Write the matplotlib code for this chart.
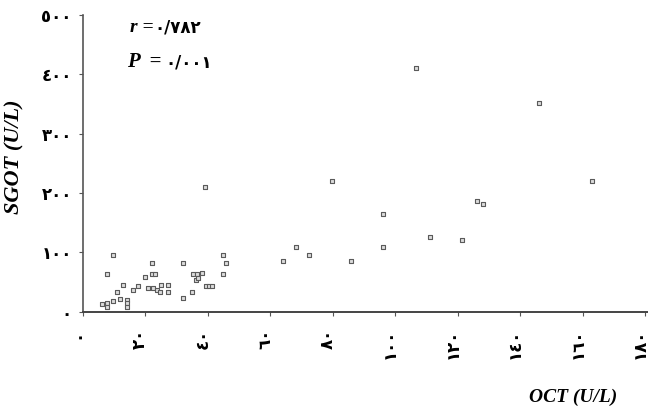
import matplotlib
matplotlib.use('Agg')
import matplotlib.pyplot as plt
from matplotlib.transforms import ScaledTranslation

# data
oct_vals = [9.5, 7.8, 12.9, 10.8, 6.0, 7.6, 7.6, 9.5, 11.8, 14.0, 14.0, 14.0,
            16.1, 17.7, 20.0, 22.0, 22.0, 23.0, 20.9, 22.5, 23.6, 24.6, 25.0,
            27.1, 27.1, 31.9, 31.9, 34.8, 35.3, 36.4, 38.2, 36.2, 36.9,
            39.4, 40.4, 41.4, 44.9, 45.8, 44.9, 39.0, 64.1, 68.2, 72.3,
            85.8, 79.7, 96.1, 96.1, 106.6, 111.0, 121.2, 126.0, 128.1,
            146.0, 162.8]
sgot_vals = [96, 63, 45, 33, 13, 15, 9, 18, 21, 20, 15, 9,
             37, 44, 59, 82, 64, 64, 41, 40, 37, 34, 45,
             45, 34, 83, 24, 34, 64, 64, 65, 54, 57,
             44, 44, 44, 96, 82, 64, 210, 86, 110, 96,
             85, 220, 165, 110, 411, 126, 121, 187, 182,
             352, 221]

x_ticks = [0, 20, 40, 60, 80, 100, 120, 140, 160, 180]
y_ticks = [0, 100, 200, 300, 400, 500]
fa_digits = str.maketrans('0123456789', '٠١٢٣٤٥٦٧٨٩')
x_labels = [str(v).translate(fa_digits) for v in x_ticks]
y_labels = [str(v).translate(fa_digits) for v in y_ticks]
r_text = '٠/٧٨٢'
p_text = '٠/٠٠١'

serif = ['Liberation Serif', 'DejaVu Sans']
digits = ['DejaVu Sans']

fig = plt.figure(figsize=(6.48, 4.12), dpi=100)
ax = fig.add_axes([0.128, 0.243, 0.872, 0.721])

ax.scatter(oct_vals, sgot_vals, marker='s', s=12, facecolor='#dcdcdc',
           edgecolor='#5a5a5a', linewidth=0.8, zorder=3)

ax.set_xlim(0, 180.8)
ax.set_ylim(0, 500)
ax.spines['top'].set_visible(False)
ax.spines['right'].set_visible(False)
ax.spines['left'].set_color('#555555')
ax.spines['bottom'].set_color('#444444')
ax.spines['left'].set_linewidth(1.2)
ax.spines['bottom'].set_linewidth(1.4)

ax.set_yticks(y_ticks)
ax.set_yticklabels(y_labels, family=digits, fontweight='bold', fontsize=12)
ax.set_xticks(x_ticks)
ax.set_xticklabels(x_labels, family=digits, fontweight='bold', fontsize=12,
                   rotation=90)
ax.tick_params(axis='y', length=3, pad=5, color='#555555')
ax.tick_params(axis='x', length=3, pad=9, color='#555555')
# the scan has its x labels sitting a little left of the ticks
shift = ScaledTranslation(-4 / 72, 0, fig.dpi_scale_trans)
for lab in ax.get_xticklabels():
    lab.set_transform(lab.get_transform() + shift)

fig.text(0.023, 0.619, 'SGOT (U/L)', rotation=90, ha='center', va='center',
         family=serif, fontweight='bold', fontstyle='italic', fontsize=16)
fig.text(0.885, 0.035, 'OCT (U/L)', ha='center', va='center',
         family=serif, fontweight='bold', fontstyle='italic', fontsize=14)

# r and P: italic latin part, upright digits (italic font lacks them)
ax.text(0.083, 0.958, 'r =', transform=ax.transAxes, ha='left',
        va='center', family=serif, fontweight='bold', fontstyle='italic',
        fontsize=14)
ax.text(0.127, 0.958, r_text, transform=ax.transAxes, ha='left',
        va='center', family=digits, fontweight='bold', fontsize=12)
ax.text(0.078, 0.84, 'P  =', transform=ax.transAxes, ha='left',
        va='center', family=serif, fontweight='bold', fontstyle='italic',
        fontsize=15)
ax.text(0.145, 0.84, p_text, transform=ax.transAxes, ha='left',
        va='center', family=digits, fontweight='bold', fontsize=12)

fig.savefig('out.png', dpi=100)
